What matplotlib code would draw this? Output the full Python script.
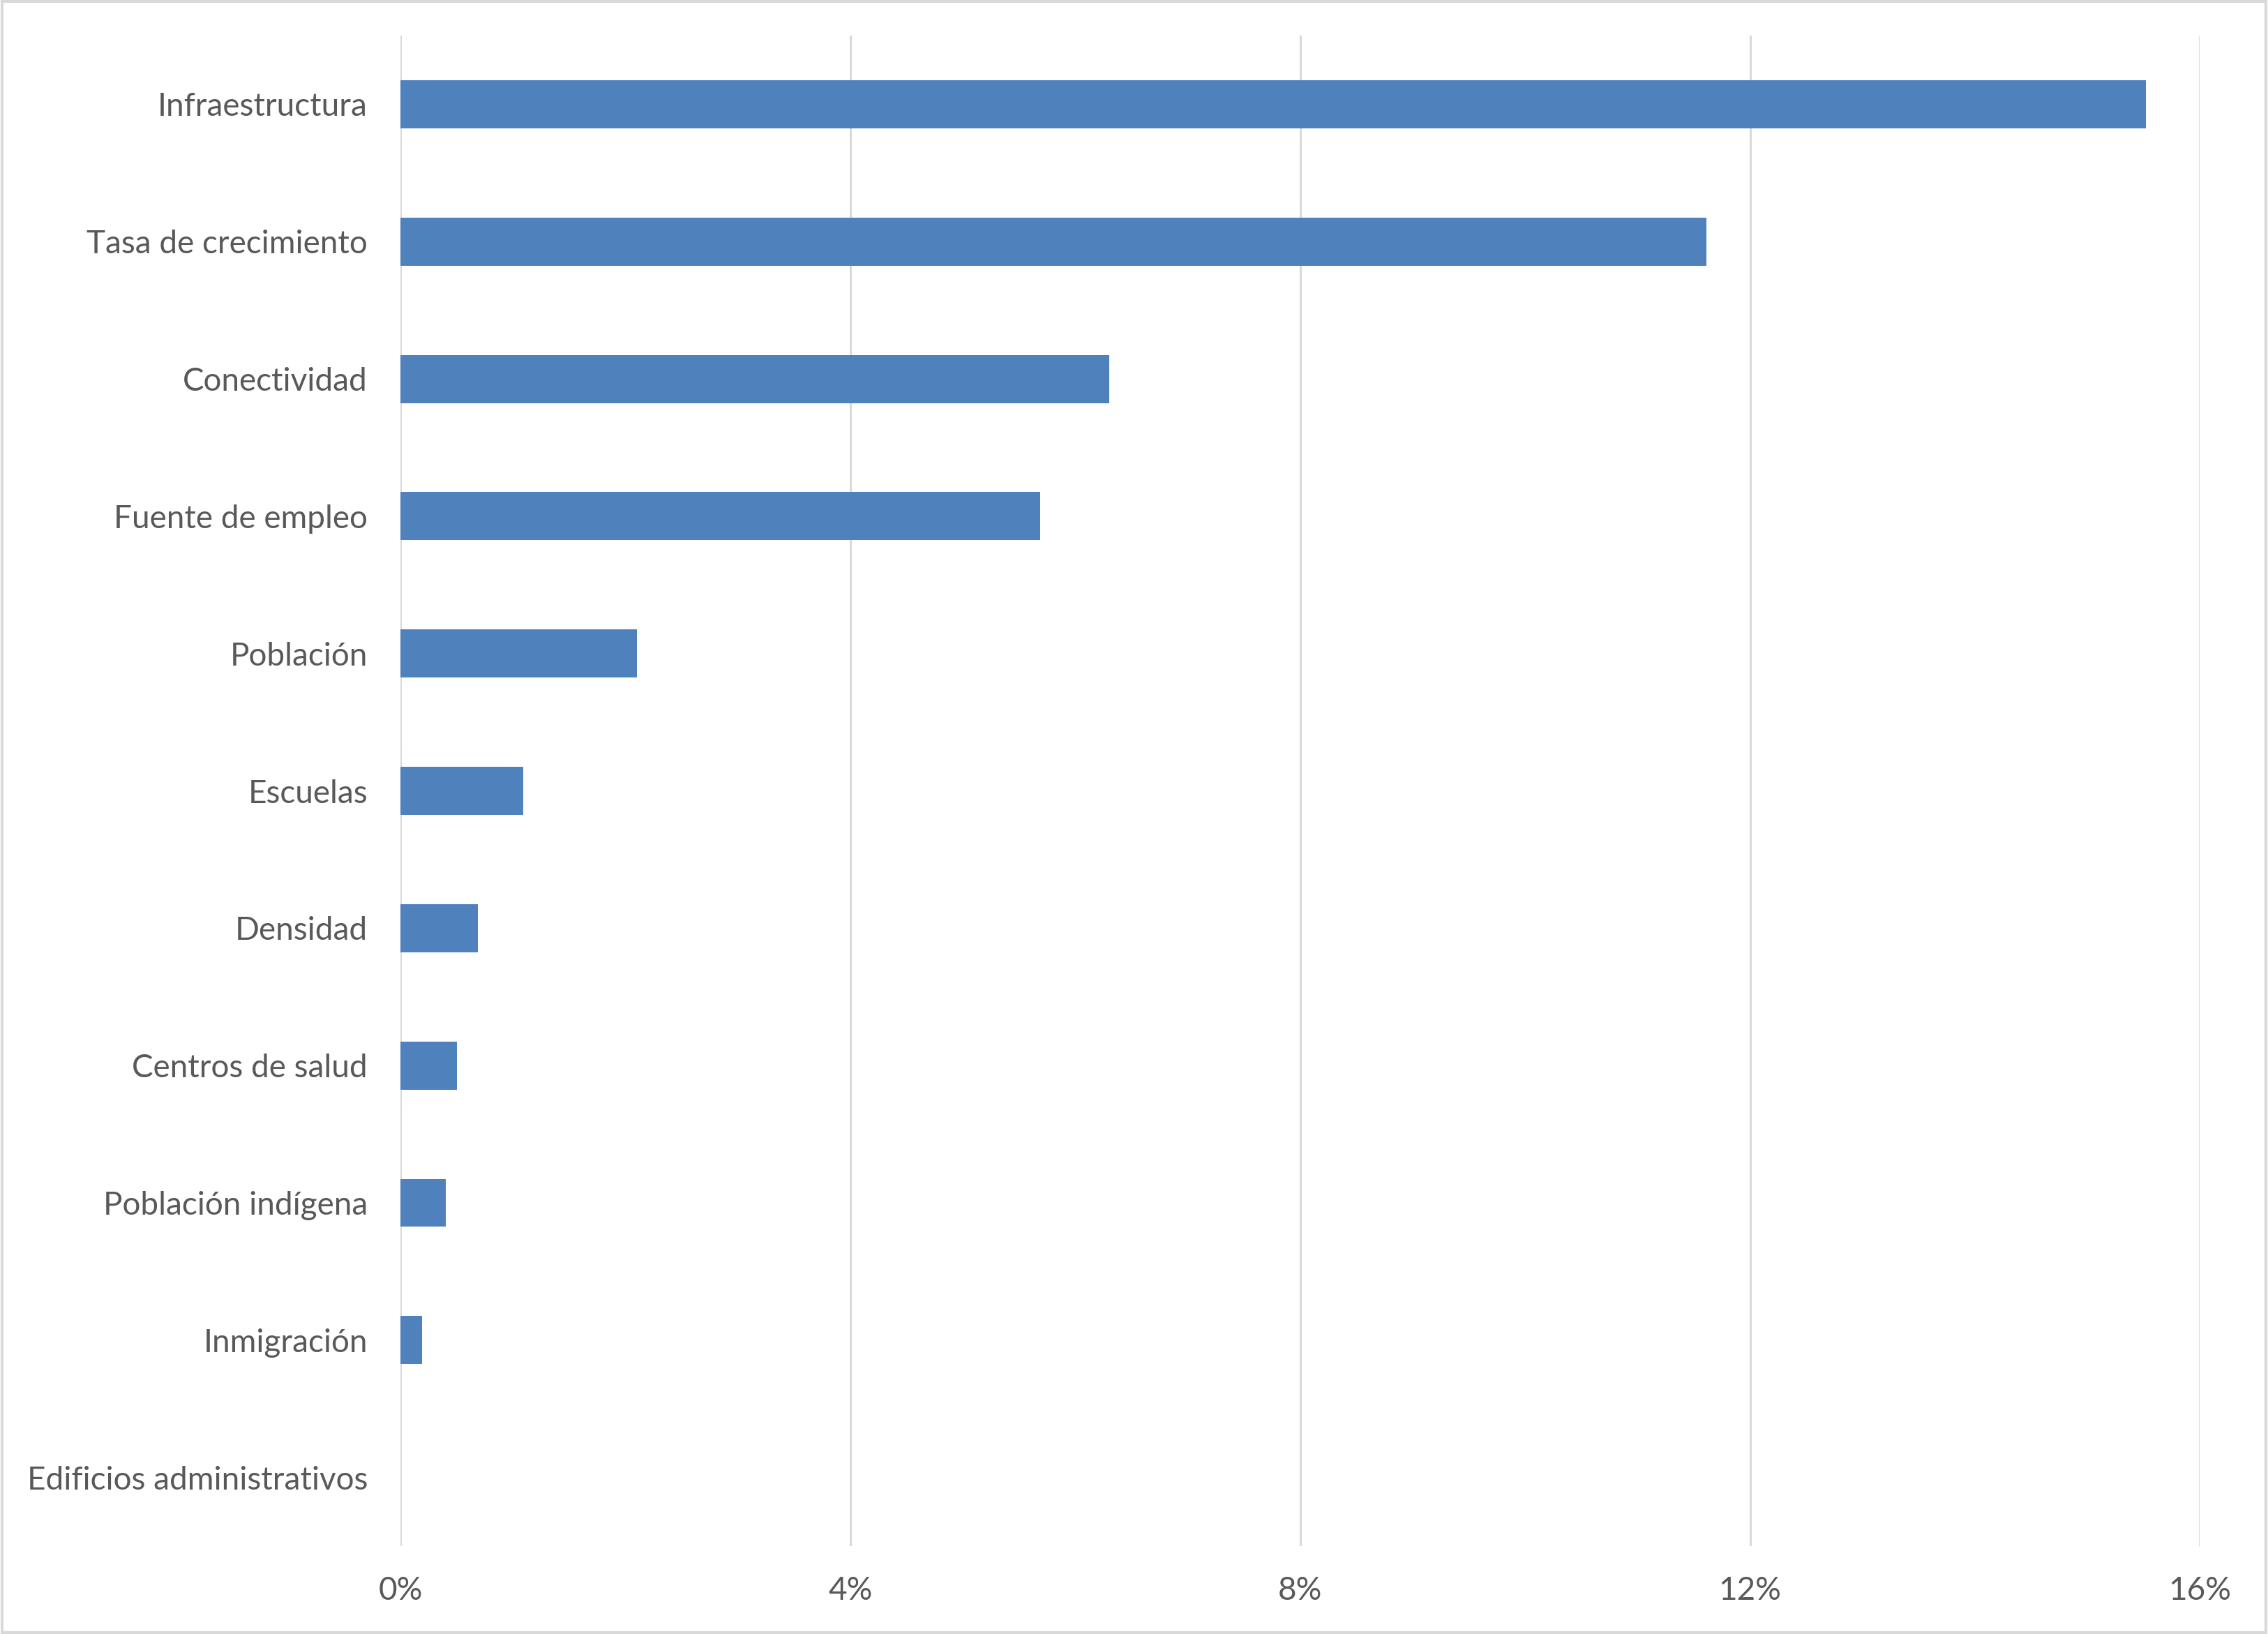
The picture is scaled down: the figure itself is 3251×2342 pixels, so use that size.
import matplotlib.pyplot as plt
from matplotlib.patches import Rectangle
from matplotlib.ticker import PercentFormatter

categorias = ['Infraestructura', 'Tasa de crecimiento', 'Conectividad',
              'Fuente de empleo', 'Población', 'Escuelas', 'Densidad',
              'Centros de salud', 'Población indígena', 'Inmigración',
              'Edificios administrativos']
valores = [0.1552, 0.1161, 0.0630, 0.0569, 0.0210, 0.0109, 0.0069,
           0.0050, 0.0040, 0.0019, 0.0]
ticks_x = [0, 0.04, 0.08, 0.12, 0.16]

plt.rcParams['font.family'] = ['Lato', 'DejaVu Sans']

fig = plt.figure(figsize=(32.51, 23.42), dpi=100)
ax = fig.add_axes([0.1766, 0.0538, 0.7934, 0.9244])

pos = list(range(len(categorias)))
ax.barh(pos, valores, height=0.35, color='#4F81BD', zorder=3)

ax.set_xlim(0, 0.16)
ax.set_ylim(len(categorias) - 0.5, -0.5)
ax.set_xticks(ticks_x)
ax.xaxis.set_major_formatter(PercentFormatter(1, decimals=0))
ax.set_yticks(pos)
ax.set_yticklabels(categorias)

ax.grid(axis='x', color='#D9D9D9', linewidth=2.2, zorder=0)
for s in ax.spines.values():
    s.set_visible(False)
ax.tick_params(axis='both', length=0, labelsize=33, colors='#595959')
ax.tick_params(axis='x', pad=31)
ax.tick_params(axis='y', pad=34)

# borde del área del gráfico
fig.patches.append(Rectangle((0.001, 0.001), 0.998, 0.998, transform=fig.transFigure,
                             fill=False, edgecolor='#D9D9D9', linewidth=3))

fig.savefig('out.png', dpi=100, facecolor='white')
